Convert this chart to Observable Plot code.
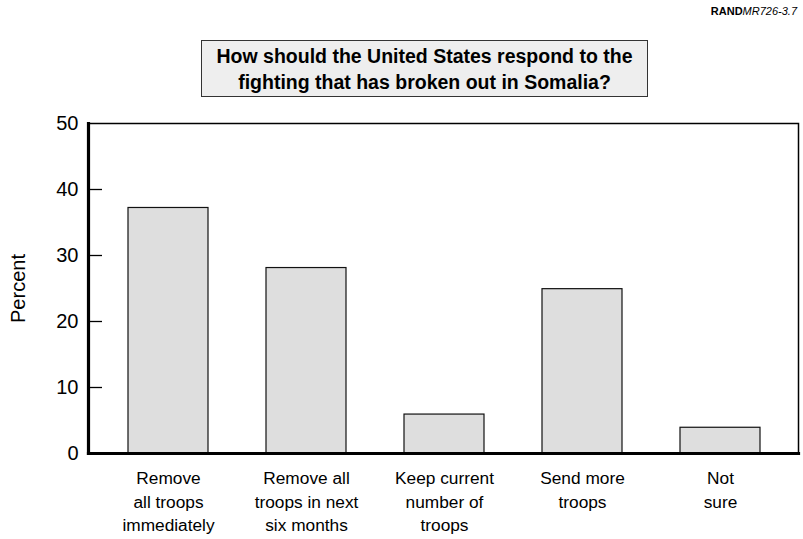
<!DOCTYPE html>
<html>
<head>
<meta charset="utf-8">
<script src="https://cdn.jsdelivr.net/npm/d3@7"></script>
<script src="https://cdn.jsdelivr.net/npm/@observablehq/plot@0.6"></script>
<style>
  html, body { margin: 0; padding: 0; background: #fff; }
  body { font-family: "Liberation Sans", Arial, Helvetica, sans-serif; color: #000; }
  #wrap { position: relative; width: 803px; height: 539px; overflow: hidden; }
  #header { position: relative; width: 803px; height: 110px; }
  #rand { position: absolute; right: 6px; top: 5px; font-size: 11px; }
  #title { position: absolute; left: 201px; top: 40px; width: 445px; height: 55px;
           background: #eeeeee; border: 1.5px solid #333; box-sizing: content-box;
           font-weight: bold; font-size: 19.5px; line-height: 26px; text-align: center;
           display: flex; align-items: center; justify-content: center; }
  #chart svg { display: block; }
</style>
</head>
<body>
<div id="wrap">
  <div id="header">
    <div id="rand"><b>RAND</b><i>MR726-3.7</i></div>
    <div id="title"><div>How should the United States respond to the<br>fighting that has broken out in Somalia?</div></div>
  </div>
  <div id="chart"></div>
</div>
<script>
const categories = ["immediately", "sixmonths", "keep", "more", "notsure"];
const categoryLabels = [
  "Remove\nall troops\nimmediately",
  "Remove all\ntroops in next\nsix months",
  "Keep current\nnumber of\ntroops",
  "Send more\ntroops",
  "Not\nsure"
];
const percents = [37.2, 28.1, 5.9, 24.9, 3.9];
const yTicks = [0, 10, 20, 30, 40, 50];

const data = categories.map((c, i) => ({cat: c, value: percents[i]}));
const labelOf = new Map(categories.map((c, i) => [c, categoryLabels[i]]));

const W = 803, H = 429;
const mL = 88, mR = 5, mT = 13, mB = 86;
const frameW = W - mL - mR;

const chart = Plot.plot({
  width: W,
  height: H,
  marginLeft: mL,
  marginRight: mR,
  marginTop: mT,
  marginBottom: mB,
  style: {fontFamily: "'Liberation Sans', Arial, Helvetica, sans-serif", fontSize: "19.5px", color: "#000", background: "#fff"},
  x: {domain: categories, paddingInner: 0.423, paddingOuter: 0.2115, insetLeft: 9, insetRight: 7},
  y: {domain: [0, 50]},
  marks: [
    Plot.barY(data, {x: "cat", y: "value", fill: "#dedede", stroke: "#111", strokeWidth: 1.2}),
    Plot.frame({stroke: "#000", strokeWidth: 1.5}),
    Plot.ruleY(yTicks.slice(1, -1), {y: d => d, stroke: "#000", strokeWidth: 1.3, insetRight: frameW - 14}),
    Plot.axisY(yTicks, {tickSize: 0, tickPadding: 10, fontSize: 20, label: "Percent", labelAnchor: "center", labelArrow: "none", labelOffset: 78}),
    Plot.axisX({tickSize: 0, tickPadding: 14, fontSize: 17.3, lineHeight: 1.36, tickFormat: d => labelOf.get(d), label: null}),
    Plot.frame({anchor: "left", stroke: "#000", strokeWidth: 3.2}),
    Plot.frame({anchor: "bottom", stroke: "#000", strokeWidth: 3.2})
  ]
});
document.getElementById("chart").appendChild(chart);
</script>
</body>
</html>
